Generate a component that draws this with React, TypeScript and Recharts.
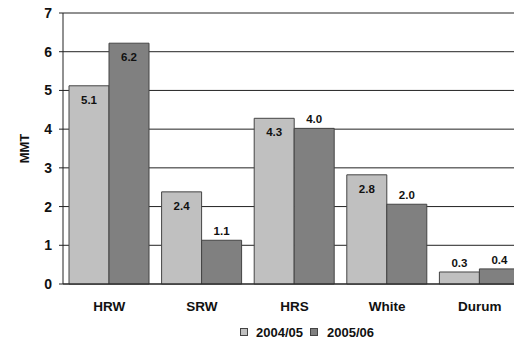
import { BarChart, Bar, XAxis, YAxis, CartesianGrid, Legend, LabelList } from "recharts";

const classes = ["HRW", "SRW", "HRS", "White", "Durum"];
const mmt0405 = [5.12, 2.38, 4.28, 2.82, 0.31];
const mmt0506 = [6.22, 1.13, 4.02, 2.06, 0.39];
const labels0405 = ["5.1", "2.4", "4.3", "2.8", "0.3"];
const labels0506 = ["6.2", "1.1", "4.0", "2.0", "0.4"];
const yTicks = [0, 1, 2, 3, 4, 5, 6, 7];

const data = classes.map((c, i) => ({
  name: c,
  a: mmt0405[i],
  b: mmt0506[i],
  la: labels0405[i],
  lb: labels0506[i],
}));

const font = "'Liberation Sans', Arial, sans-serif";

// values above the threshold get their label inside the bar, the rest above it
const makeLabel = (labelsKey: string, insideMin: number) => (props: any) => {
  const { x, y, width, index, value } = props;
  const txt = (data as any)[index][labelsKey];
  const cx = x + width / 2;
  if (value > insideMin) {
    return (
      <text x={cx} y={y + 14} textAnchor="middle" dominantBaseline="central"
        fontFamily={font} fontWeight="bold" fontSize={11.5} fill="#111">
        {txt}
      </text>
    );
  }
  return (
    <text x={cx} y={y - 5} textAnchor="middle"
      fontFamily={font} fontWeight="bold" fontSize={11.5} fill="#111">
      {txt}
    </text>
  );
};

const box = (color: string) => ({
  width: 6, height: 6, background: color, border: "1px solid #444", display: "inline-block",
});

const LegendBox = () => (
  <div style={{ height: 24, display: "flex", alignItems: "center", paddingLeft: 240, fontFamily: font, fontWeight: "bold", fontSize: 13, color: "#111" }}>
    <span style={{ ...box("#c0c0c0"), marginRight: 8 }} />
    <span style={{ marginRight: 7 }}>2004/05</span>
    <span style={{ ...box("#808080"), marginRight: 9 }} />
    <span>2005/06</span>
  </div>
);

const MmtLabel = (props: any) => {
  const { viewBox } = props;
  const cy = viewBox.y + viewBox.height / 2;
  return (
    <text x={24} y={cy} transform={`rotate(-90, 24, ${cy})`} textAnchor="middle" dominantBaseline="central"
      fontFamily={font} fontWeight="bold" fontSize={13} fill="#111">
      MMT
    </text>
  );
};

export default function App() {
  return (
    <div style={{ position: "absolute", left: 0, top: 0, width: 514, height: 344, overflow: "hidden", background: "#fff" }}>
      <BarChart width={526} height={344} data={data} barGap={0} barSize={40}
        margin={{ top: 13, right: 0, left: 0, bottom: 0 }}>
        <CartesianGrid vertical={false} stroke="#222" />
        <XAxis dataKey="name" height={36} tickLine={false} tickSize={0} tickMargin={17}
          axisLine={{ stroke: "#222" }}
          tick={{ fontFamily: font, fontWeight: "bold", fontSize: 13.5, fill: "#111" }} />
        <YAxis width={63} domain={[0, 7]} ticks={yTicks} interval={0} tickSize={4} tickMargin={7}
          axisLine={{ stroke: "#222" }} tickLine={{ stroke: "#222" }}
          tick={{ fontFamily: font, fontWeight: "bold", fontSize: 14, fill: "#111" }}
          label={<MmtLabel />} />
        <Legend verticalAlign="bottom" height={24} content={<LegendBox />} wrapperStyle={{ left: 0, width: 526 }} />
        <Bar dataKey="a" fill="#c0c0c0" stroke="#444" isAnimationActive={false}>
          <LabelList dataKey="a" content={makeLabel("la", 1)} />
        </Bar>
        <Bar dataKey="b" fill="#808080" stroke="#444" isAnimationActive={false}>
          <LabelList dataKey="b" content={makeLabel("lb", 5)} />
        </Bar>
      </BarChart>
    </div>
  );
}
